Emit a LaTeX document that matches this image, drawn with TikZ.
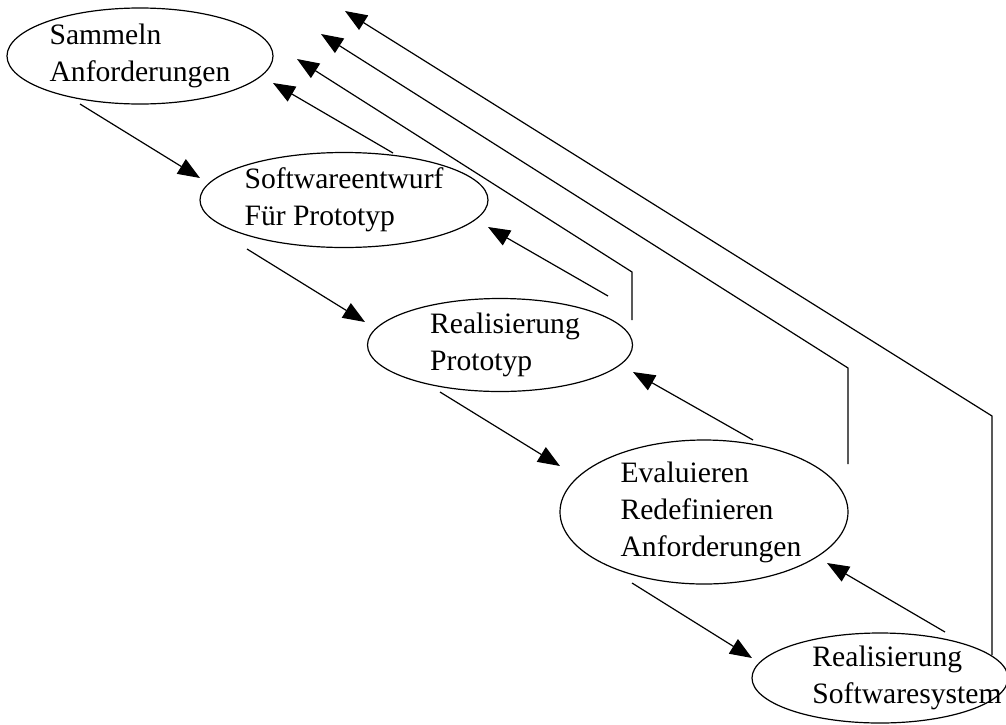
\documentclass[tikz,border=0pt]{standalone}
\usepackage{fontspec}
\setmainfont{Liberation Serif}
\usetikzlibrary{arrows.meta,shapes.geometric,calc}

\newcommand\phtext[2][0pt]{\raisebox{-3.6pt}[0pt][0pt]{\makebox[0pt]{\hspace*{#1}\begin{tabular}[c]{@{}l@{}}#2\end{tabular}}}}

\begin{document}
\begin{tikzpicture}[x=0.5pt,y=-0.5pt,line width=0.6pt,
  phase/.style={draw,ellipse,inner sep=0pt,font=\fontsize{14.8}{18.5}\selectfont},
  flow/.style={-{Triangle[length=11pt,width=8.5pt]}}]
\useasboundingbox (0,0) rectangle (1006,724);

\node[phase,minimum width=133pt,minimum height=48pt] (sam) at (140,56) {\phtext{Sammeln\\Anforderungen}};
\node[phase,minimum width=144pt,minimum height=47.5pt] (entw) at (344,200) {\phtext{Softwareentwurf\\Für Prototyp}};
\node[phase,minimum width=132.5pt,minimum height=46.5pt] (proto) at (500,345) {\phtext[5pt]{Realisierung\\Prototyp}};
\node[phase,minimum width=144pt,minimum height=72pt] (eval) at (704,512) {\phtext[7pt]{Evaluieren\\Redefinieren\\Anforderungen}};
\node[phase,minimum width=128pt,minimum height=45pt] (sys) at (880,678) {\phtext[27pt]{Realisierung\\Softwaresystem}};

\draw[flow] ($(sam)+(-60,48)$)--($(entw)+(-144,-22)$);
\draw[flow] ($(entw)+(-97,49)$)--($(proto)+(-135,-23)$);
\draw[flow] ($(proto)+(-60,47)$)--($(eval)+(-144,-46)$);
\draw[flow] ($(eval)+(-72,71)$)--($(sys)+(-128,-20)$);

\draw[flow] ($(entw)+(49,-47)$)--($(sam)+(133,27)$);
\draw[flow] ($(proto)+(108,-49)$)--($(entw)+(144,27)$);
\draw[flow] ($(eval)+(49,-72)$)--($(proto)+(133,27)$);
\draw[flow] ($(sys)+(65,-46)$)--($(eval)+(123,51)$);

\draw[flow] ($(proto)+(132,-25)$)--++(0,-48)--($(sam)+(157,3)$);
\draw[flow] ($(eval)+(144,-48)$)--++(0,-96)--($(sam)+(181,-22)$);
\draw[flow] ($(sys)+(112,-23)$)--++(0,-239)--($(sam)+(205,-45)$);

\end{tikzpicture}
\end{document}
